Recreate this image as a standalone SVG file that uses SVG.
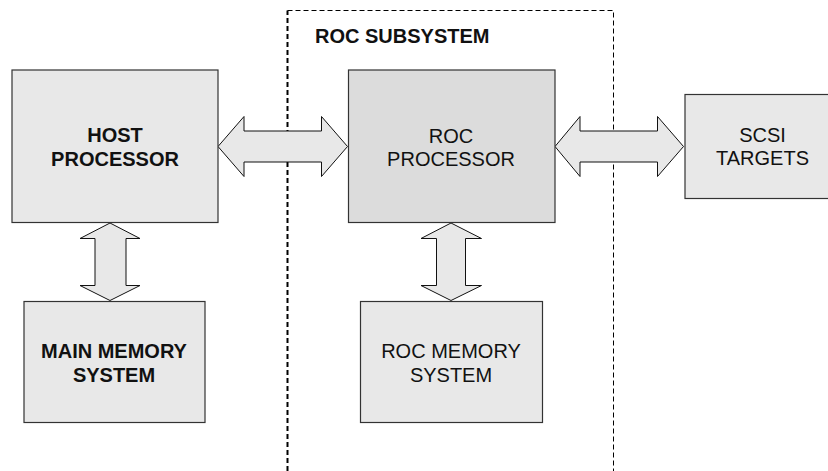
<svg xmlns="http://www.w3.org/2000/svg" width="828" height="471" viewBox="0 0 828 471">
<style>
.box{fill:#e8e8e8;stroke:#333;stroke-width:1.2}
.roc{fill:#dcdcdc;stroke:#333;stroke-width:1.2}
.arr{fill:#e8e8e8;stroke:#111;stroke-width:1}
text{font-family:"Liberation Sans",Arial,sans-serif;font-size:20px;fill:#111;text-anchor:middle}
.b{font-weight:bold;font-size:20px}
</style>
<g id="roc-subsystem">
<path d="M287.5,471 V10.5" fill="none" stroke="#000" stroke-width="2" stroke-dasharray="5,3"/>
<path d="M287.5,10.5 H613.5 V471" fill="none" stroke="#000" stroke-width="1" stroke-dasharray="5,3"/>
<text class="b" x="315" y="43" style="text-anchor:start">ROC SUBSYSTEM</text>
</g>
<g id="connectors">
<polygon class="arr" points="218,146.5 244,116.5 244,131 321.5,131 321.5,116.5 347.5,146.5 321.5,176.5 321.5,162 244,162 244,176.5"/>
<polygon class="arr" points="555,146.5 580,116.5 580,131 657.5,131 657.5,116.5 683.5,146.5 657.5,176.5 657.5,162 580,162 580,176.5"/>
<polygon class="arr" points="110,223 140,238.5 126,238.5 126,285.5 140,285.5 110,300.5 80,285.5 95,285.5 95,238.5 80,238.5"/>
<polygon class="arr" points="451,223 481.5,238.5 465.5,238.5 465.5,285.5 481.5,285.5 451,300.5 421,285.5 436.5,285.5 436.5,238.5 421,238.5"/>
</g>
<g id="host-processor">
<rect class="box" x="12" y="70" width="206" height="152.5"/>
<text class="b" x="115" y="142">HOST</text>
<text class="b" x="115" y="166">PROCESSOR</text>
</g>
<g id="roc-processor">
<rect class="roc" x="348.5" y="70" width="206.5" height="152.5"/>
<text x="451" y="142.5">ROC</text>
<text x="451" y="166">PROCESSOR</text>
</g>
<g id="scsi-targets">
<rect class="box" x="685" y="94.5" width="150" height="104"/>
<text x="762.5" y="141.5">SCSI</text>
<text x="762.5" y="165">TARGETS</text>
</g>
<g id="main-memory">
<rect class="box" x="24" y="301.5" width="181" height="121"/>
<text class="b" x="114" y="357.5">MAIN MEMORY</text>
<text class="b" x="114" y="382">SYSTEM</text>
</g>
<g id="roc-memory">
<rect class="box" x="360.5" y="301.5" width="182" height="121"/>
<text x="451" y="357.5">ROC MEMORY</text>
<text x="451" y="381.5">SYSTEM</text>
</g>
</svg>
